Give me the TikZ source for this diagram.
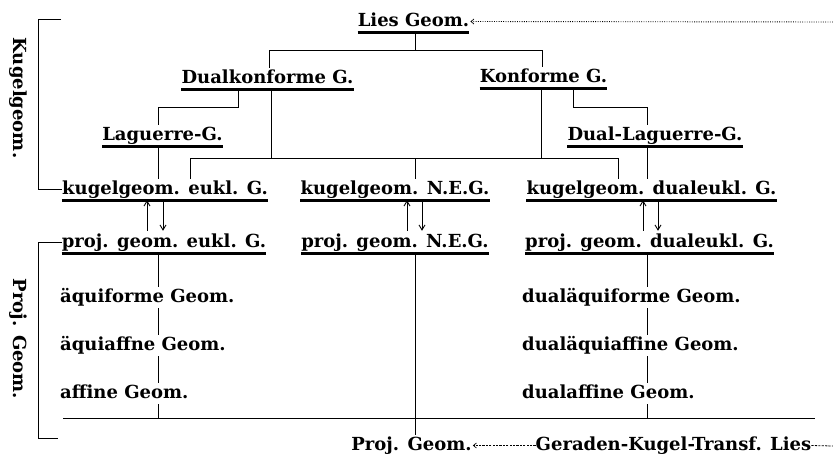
\documentclass[tikz,border=0pt]{standalone}
\usepackage{fontspec}
\setmainfont{DejaVu Serif}
\usetikzlibrary{arrows.meta}
\begin{document}
\begin{tikzpicture}[x=1pt,y=-1pt,
  lbl/.style={inner sep=0pt,anchor=base,text height=15pt,text depth=6pt,font=\bfseries\fontsize{18}{20}\selectfont},
  side/.style={inner sep=0pt,rotate=-90,font=\bfseries\fontsize{18}{20}\selectfont},
  uline/.style={line width=2.8pt},
  conn/.style={line width=0.7pt},
  updown/.style={line width=0.9pt,-{Straight Barb[length=5pt,width=6pt]}},
  dotarrow/.style={line width=0.9pt,dash pattern=on 0.9pt off 1.4pt,-{Straight Barb[length=3pt,width=5pt,line width=0.7pt]}},
  dasharrow/.style={line width=0.8pt,dash pattern=on 2.2pt off 1.2pt,-{Straight Barb[length=3pt,width=5pt,line width=0.7pt]}},
  dashline/.style={line width=0.8pt,dash pattern=on 2.2pt off 1.2pt}]
\useasboundingbox (0,0) rectangle (833,455);

% nodes
\node[lbl] (lies) at (413.5,26) {Lies Geom.};
\node[lbl] (dk) at (267.5,83) {Dualkonforme G.};
\node[lbl] (kf) at (543.5,82) {Konforme G.};
\node[lbl] (lag) at (162.5,140) {Laguerre-G.};
\node[lbl] (dlag) at (655,140) {Dual-Laguerre-G.};
\node[lbl] (ke) at (165,194) {kugelgeom. eukl. G.};
\node[lbl] (kn) at (395,194) {kugelgeom. N.E.G.};
\node[lbl] (kd) at (651.5,194) {kugelgeom. dualeukl. G.};
\node[lbl] (pe) at (164,247) {proj. geom. eukl. G.};
\node[lbl] (pn) at (395,247) {proj. geom. N.E.G.};
\node[lbl] (pd) at (649.5,247) {proj. geom. dualeukl. G.};
\node[lbl,anchor=base west] (aq1) at (60,302) {äquiforme Geom.};
\node[lbl,anchor=base west] (aq2) at (60,350) {äquiaffne Geom.};
\node[lbl,anchor=base west] (aq3) at (60,398) {affine Geom.};
\node[lbl,anchor=base west] (dq1) at (522,302) {dualäquiforme Geom.};
\node[lbl,anchor=base west] (dq2) at (522,350) {dualäquiaffine Geom.};
\node[lbl,anchor=base west] (dq3) at (522,398) {dualaffine Geom.};
\node[lbl] (pg) at (411.5,450) {Proj. Geom.};
\node[lbl] (gk) at (673.5,450) {Geraden-Kugel-Transf. Lies};
\node[side] (kg) at (18,98) {Kugelgeom.};
\node[side] (pjg) at (18,339) {Proj. Geom.};

% underlines
\foreach \n in {lies,dk,kf,lag,dlag,ke,kn,kd,pe,pn,pd}
  \draw[uline] (\n.south west) -- (\n.south east);

% junction coordinates
\coordinate (hA) at (269,50);
\coordinate (hB) at (542,50);
\coordinate (jL) at (415,50);
\coordinate (dA) at (238,107);
\coordinate (dB) at (158,107);
\coordinate (kA) at (573,107);
\coordinate (kB) at (647,107);
\coordinate (hC) at (190,158);
\coordinate (hD) at (618,158);
\coordinate (hE) at (271,158);
\coordinate (hF) at (541,158);
\coordinate (hG) at (415,158);
\coordinate (xL) at (158,0);
\coordinate (xM) at (415,0);
\coordinate (xR) at (647,0);
\coordinate (hl1) at (63,418);
\coordinate (hl2) at (815,418);
\coordinate (kbt) at (61,19);
\coordinate (kbx) at (38,0);
\coordinate (pbb) at (58,438);
\coordinate (topR) at (833,22);
\coordinate (botR) at (833,446);

% upper tree
\draw[conn] (lies.south -| jL) -- (jL);
\draw[conn] (dk.north -| hA) -- (hA) -- (hB) -- (kf.north -| hB);
\draw[conn] (dk.south -| dA) -- (dA) -- (dB) -- (lag.north -| dB);
\draw[conn] (kf.south -| kA) -- (kA) -- (kB) -- (dlag.north -| kB);
\draw[conn] (lag.south -| xL) -- (ke.north -| xL);
\draw[conn] (dlag.south -| xR) -- (kd.north -| xR);
\draw[conn] (ke.north -| hC) -- (hC) -- (hD) -- (kd.north -| hD);
\draw[conn] (dk.south -| hE) -- (hE);
\draw[conn] (kf.south -| hF) -- (hF);
\draw[conn] (hG) -- (kn.north -| hG);

% arrows between rows
\coordinate (a1) at (147,0);
\coordinate (a2) at (163,0);
\coordinate (a3) at (407,0);
\coordinate (a4) at (422,0);
\coordinate (a5) at (643,0);
\coordinate (a6) at (658,0);
\foreach \u/\d in {a1/a2,a3/a4,a5/a6}{
  \draw[updown,shorten <=1pt] (pe.north -| \u) -- (ke.south -| \u);
  \draw[updown,shorten >=1pt] (ke.south -| \d) -- (pe.north -| \d);
}

% lower tree
\draw[conn] (pe.south -| xL) -- (aq1.north -| xL);
\draw[conn] (aq1.south -| xL) -- (aq2.north -| xL);
\draw[conn] (aq2.south -| xL) -- (aq3.north -| xL);
\draw[conn] (aq3.south -| xL) -- (hl1 -| xL);
\draw[conn] (pd.south -| xR) -- (dq1.north -| xR);
\draw[conn] (dq1.south -| xR) -- (dq2.north -| xR);
\draw[conn] (dq2.south -| xR) -- (dq3.north -| xR);
\draw[conn] (dq3.south -| xR) -- (hl1 -| xR);
\draw[conn] (hl1) -- (hl2);
\draw[conn] (pn.south -| xM) -- (pg.north -| xM);

% brackets
\draw[conn] (kbt) -- (kbt -| kbx) -- (ke.west -| kbx) -- (ke.west);
\draw[conn] (pe.west) -- (pe.west -| kbx) -- (pbb -| kbx) -- (pbb);

% dotted / dashed arrows
\draw[dotarrow,shorten >=1pt] (topR) -- (lies.east);
\draw[dasharrow,shorten >=1pt] (gk.west) -- (pg.east);
\draw[dashline] (gk.east) -- (botR);
\end{tikzpicture}
\end{document}
